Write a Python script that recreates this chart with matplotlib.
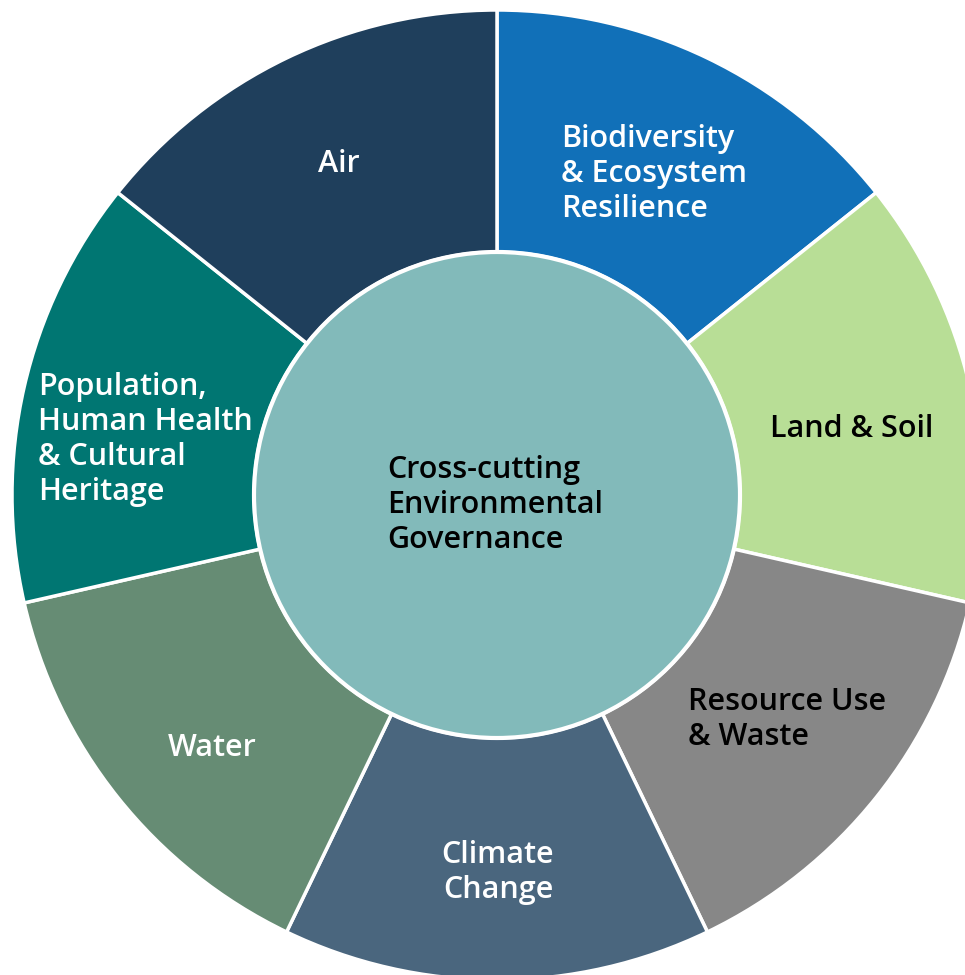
import matplotlib.pyplot as plt
from matplotlib.patches import Circle

# segments clockwise from 12 o'clock, all equal share
labels = ['Biodiversity\n& Ecosystem\nResilience', 'Land & Soil', 'Resource Use\n& Waste',
          'Climate\nChange', 'Water', 'Population,\nHuman Health\n& Cultural\nHeritage', 'Air']
shares = [1, 1, 1, 1, 1, 1, 1]
colors = ['#1170B8', '#B8DE96', '#878787', '#4A667E', '#668C74', '#007672', '#1F3F5C']
text_colors = ['white', 'black', 'black', 'white', 'white', 'white', 'white']
center_label = 'Cross-cutting\nEnvironmental\nGovernance'
center_color = '#82BABA'

W, H = 965, 975
cx, cy = 497, H - 495
r_out, r_in = 485, 243

fig = plt.figure(figsize=(W / 100, H / 100), dpi=100)
ax = fig.add_axes([0, 0, 1, 1])
ax.pie(shares, colors=colors, startangle=90, counterclock=False,
       center=(cx, cy), radius=r_out,
       wedgeprops=dict(width=r_out - r_in, edgecolor='white', linewidth=2.5))
ax.add_patch(Circle((cx, cy), r_in, facecolor=center_color, edgecolor='white', linewidth=3, zorder=3))
ax.set_xlim(0, W)
ax.set_ylim(0, H)
ax.set_aspect('equal')
ax.axis('off')

# label anchors in pixel coords (x, y-from-top of first line, alignment)
spots = [(561, 137, 'left'), (770, 427, 'left'), (688, 700, 'left'), (498, 853, 'center'),
         (212, 746, 'center'), (38, 385, 'left'), (339, 162, 'center')]
font = dict(family=['Open Sans', 'DejaVu Sans'], fontsize=22, fontweight='semibold', linespacing=1.22)
off = 13  # va='top' -> move up so the first line's middle sits on the anchor
for lab, (x, y, ha), tc in zip(labels, spots, text_colors):
    ax.text(x, H - y + off, lab, ha=ha, va='top', color=tc, multialignment=ha, zorder=4, **font)
ax.text(387, H - 468 + off, center_label, ha='left', va='top', color='black', zorder=4, **font)

fig.savefig('out.png', dpi=100, facecolor='white')
